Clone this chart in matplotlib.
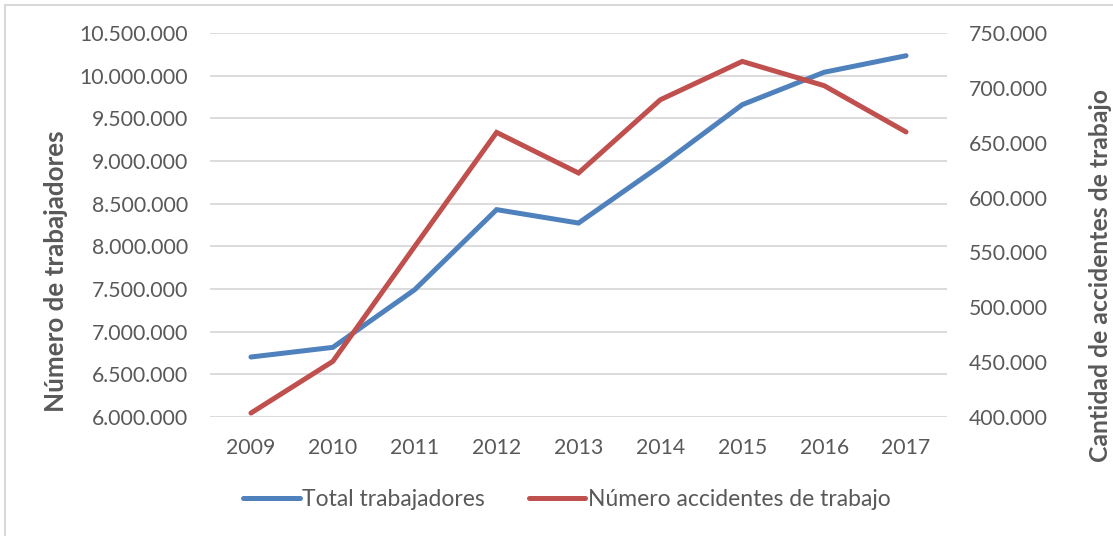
import matplotlib.pyplot as plt
from matplotlib.ticker import FuncFormatter, MultipleLocator

# data
years = ["2009", "2010", "2011", "2012", "2013", "2014", "2015", "2016", "2017"]
total_trabajadores = [6703000, 6816000, 7492000, 8430000, 8273000, 8945000, 9660000, 10040000, 10234000]
accidentes = [403600, 450700, 555500, 659400, 622400, 689200, 724100, 702000, 659800]

blue = "#4F81BD"
red = "#C0504D"
grey = "#595959"

plt.rcParams["font.family"] = ["Lato", "DejaVu Sans"]


def miles(v, pos):
    return f"{int(round(v)):,}".replace(",", ".")


W, H = 1113, 536
fig = plt.figure(figsize=(W / 100, H / 100), dpi=100)
ax = fig.add_axes([210 / W, 1 - 417 / H, 737 / W, 384 / H])
ax2 = ax.twinx()

x = range(len(years))
l1, = ax.plot(x, total_trabajadores, color=blue, lw=3.6, solid_capstyle="round", solid_joinstyle="miter")
l2, = ax2.plot(x, accidentes, color=red, lw=3.6, solid_capstyle="round", solid_joinstyle="miter")

ax.set_xlim(-0.5, len(years) - 0.5)
ax.set_ylim(6000000, 10500000)
ax2.set_ylim(400000, 750000)
ax.yaxis.set_major_locator(MultipleLocator(500000))
ax2.yaxis.set_major_locator(MultipleLocator(50000))
ax.yaxis.set_major_formatter(FuncFormatter(miles))
ax2.yaxis.set_major_formatter(FuncFormatter(miles))
ax.set_xticks(list(x))
ax.set_xticklabels(years)

ax.grid(axis="y", color="#D9D9D9", lw=1.3)
ax.set_axisbelow(True)
for a in (ax, ax2):
    for s in a.spines.values():
        s.set_visible(False)
    a.tick_params(length=0, labelsize=15.3, labelcolor=grey)
ax.tick_params(axis="y", pad=16)
ax2.tick_params(axis="y", pad=16)
ax.tick_params(axis="x", pad=15)

# axis titles, a bit below the middle of the plot as in the original
# (size picked so the title spans the same pixel length as in the original)
renderer = fig.canvas.get_renderer()
for label, cx, cy, length in [("Número de trabajadores", 56.5, 271, 283),
                              ("Cantidad de accidentes de trabajo", 1101, 275, 375)]:
    t = fig.text(cx / W, 1 - cy / H, label, rotation=90, ha="center", va="center",
                 fontsize=10, fontweight="bold", color=grey)
    h = t.get_window_extent(renderer).height
    t.set_fontsize(10 * length / h)

fig.legend([l1, l2], ["Total trabajadores", "Número accidentes de trabajo"],
           loc="center", bbox_to_anchor=(567 / W, 1 - 500 / H), ncol=2, frameon=False,
           fontsize=16.5, labelcolor=grey, handlelength=2.45, handletextpad=0.1, columnspacing=1.95)

# chart border (left and top edges visible)
fig.add_artist(plt.Line2D([5 / W, 5 / W], [0, 1 - 5 / H], color="#D9D9D9", lw=1.5))
fig.add_artist(plt.Line2D([5 / W, 1], [1 - 5 / H, 1 - 5 / H], color="#D9D9D9", lw=1.5))

fig.savefig("out.png", dpi=100)
